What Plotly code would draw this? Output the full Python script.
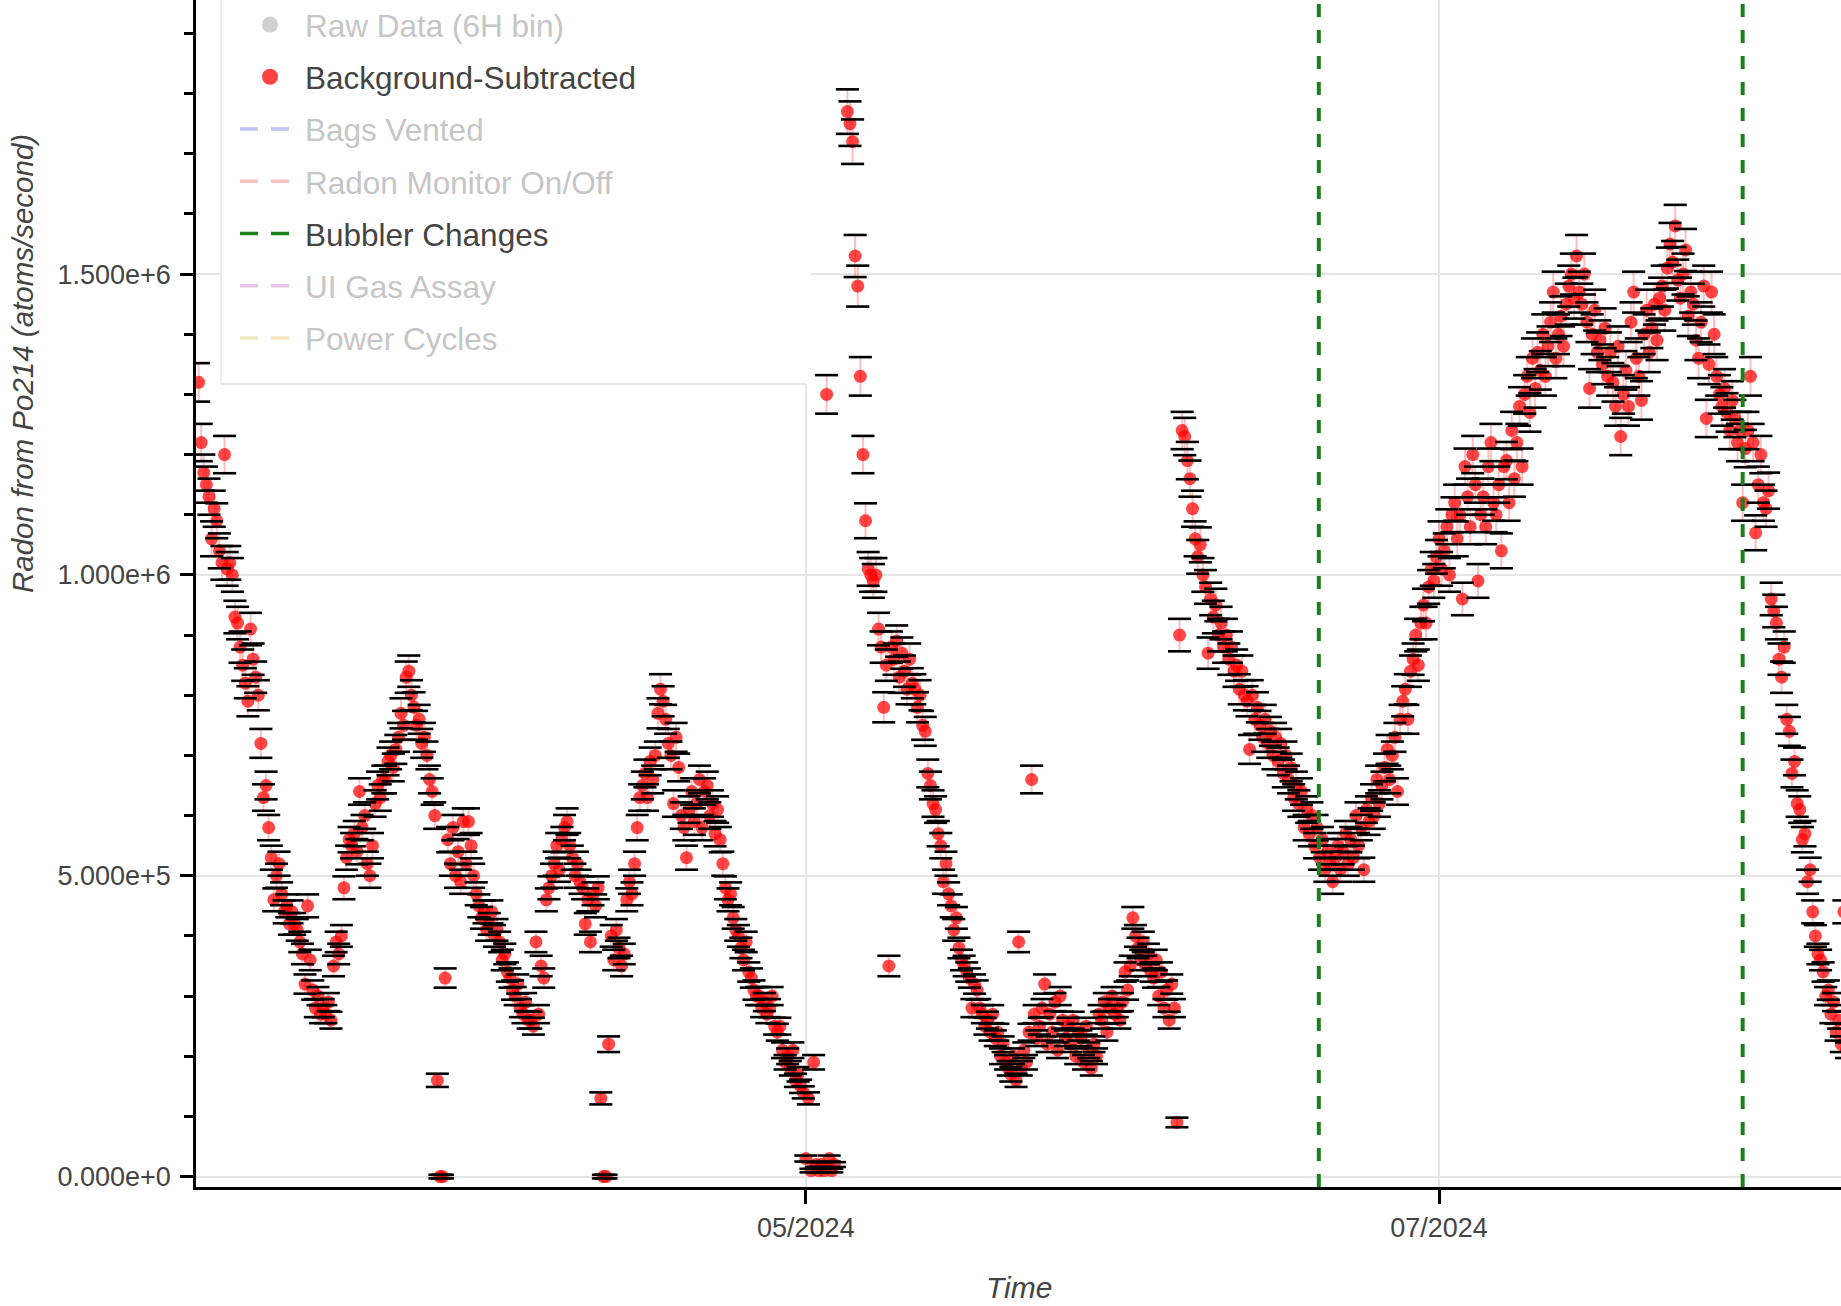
import pandas as pd
import plotly.graph_objects as go

# ---------------- data ----------------
SCALE = 1e4                       # values below are in units of 1e4 atoms/second
BIN_START = "2024-03-03 12:00"    # first 6H bin
BIN_FREQ = "6h"

# background-subtracted radon rate, 6H bins, four bins per group
bkgsub_p1 = [
    132, 122, 117, 115,  113, 106, 111, 109,  104, 102, 120, 101,  102, 100, 93, 92,
    88, 85, 82, 79,  91, 86, 83, 80,  72, 63, 65, 58,  53, 46, 50, 52,
    47, 44, 45, 42,  44, 42, 41, 39,  37, 32, 45, 36,  31, 28, 30, 27,
    28, 27, 29, 26,  35, 39, 37, 40,  48, 53, 56, 55,  57, 54, 64, 58,
    60, 52, 50, 55,  62, 65, 63, 66,  66, 69, 70, 68,  71, 73, 77, 75,
    83, 84, 80, 78,  75, 76, 72, 73,  70, 66, 64, 60,  16, 0, 0, 33,
    56, 52, 58, 50,  54, 49, 59, 52,  59, 55, 50, 47,  45, 43, 44, 41,
    42, 44, 40, 41,
]
bkgsub_p2 = [
    39, 36, 37, 34,  33, 31, 30, 32,  28, 27, 29, 26,  26, 25, 39, 27,
    35, 33, 46, 48,  50, 52, 55, 51,  56, 58, 59, 55,  53, 50, 52, 49,
    48, 42, 46, 39,  47, 45, 48, 13,  0, 0, 22, 40,  36, 41, 38, 35,
    37, 46, 49, 47,  52, 58, 63, 65,  67, 63, 69, 66,  70, 77, 81, 79,
    76, 72, 70, 62,  73, 68, 60, 58,  53, 61, 64, 59,  62, 66, 58, 64,
    65, 60, 62, 57,  61, 56, 52, 48,  46, 47, 43, 41,  40, 38, 36, 39,
    34, 33, 31, 30,  30, 28, 29, 27,  28, 30, 25, 24,  25, 21, 19, 20,
    18, 21, 16, 17,  15, 14, 3, 13,
]
bkgsub_p3 = [
    1, 19, 2, 1,  2, 1, 130, 3,  1, 2, None, None,  None, None, 177, 175,
    172, 153, 148, 133,  120, 109, 101, 100,  99, 100, 91, 88,  78, 85, 35, 88,
    86, 89, 83, 87,  84, 81, 86, 82,  81, 78, 80, 75,  74, 67, 65, 62,
    61, 57, 55, 49,  52, 47, 45, 41,  43, 38, 36, 35,  34, 33, 28, 32,
    31, 28, 27, 25,  26, 24, 27, 23,  24, 20, 22, 19,  18, 17, 20, 16,
    39, 18, 21, 19,  24, 66, 27, 23,  25, 28, 32, 22,  27, 24, 29, 21,
    30, 26, 23, 25,  22, 26, 20, 24,  23, 19, 25, 21,  18, 22, 20, 27,
    26, 29, 24, 28,  30, 27, 28, 26,  29, 34, 31, 35,
]
bkgsub_p4 = [
    43, 40, 38, 36,  39, 35, 37, 34,  33, 36, 30, 34,  28, 31, 26, 32,
    28, 9, 90, 124,  123, 119, 116, 111,  106, 103, 105, 100,  98, 87, 96, 93,
    95, 90, 92, 88,  90, 86, 88, 84,  85, 81, 84, 80,  79, 71, 80, 76,
    78, 75, 73, 76,  72, 74, 70, 73,  69, 72, 67, 70,  66, 68, 63, 65,
    62, 64, 58, 61,  57, 60, 55, 58,  53, 56, 51, 54,  52, 49, 53, 55,
    51, 54, 57, 52,  56, 53, 60, 55,  58, 51, 61, 59,  63, 60, 66, 62,
    65, 68, 71, 66,  70, 73, 64, 76,  79, 81, 76, 84,  86, 90, 85, 92,
    95, 92, 98, 101,  99, 103, 106, 101,
]
bkgsub_p5 = [
    104, 108, 100, 110,  112, 106, 110, 96,  118, 113, 108, 120,  115, 99, 110, 113,
    108, 118, 122, 112,  110, 115, 104, 118,  119, 112, 124, 116,  122, 128, 118, 130,
    133, 127, 136, 131,  137, 134, 140, 133,  138, 142, 147, 136,  140, 143, 138, 145,
    148, 150, 146, 153,  147, 145, 150, 142,  131, 140, 144, 137,  139, 135, 141, 133,
    137, 132, 128, 138,  123, 130, 134, 128,  142, 147, 136, 133,  129, 140, 144, 137,
    141, 145, 139, 146,  148, 144, 151, 155,  152, 158, 149, 146,  150, 154, 143, 147,
    145, 139, 136, 142,  148, 126, 135, 147,  140, 133, 130, 128,  131, 127, 124, 129,
    126, 122, 124, 112,  121, 124, 133, 122,  107, 115, 120, 112,
]
bkgsub_p6 = [
    111, 114, 96, 94,  92, 86, 83, 88,  76, 74, 67, 69,  62, 61, 56, 57,
    49, 51, 44, 40,  37, 36, 34, 30,  31, 27, 29, 24,  26, 22, 44, 21,
]

# half-height of the error bars (same units), read from the whisker caps
err_p1 = [
    3.2, 3.1, 3.0, 3.0,  3.0, 2.9, 3.0, 2.9,  2.9, 2.8, 3.1, 2.8,  2.8, 2.8, 2.7, 2.7,
    2.6, 2.6, 2.5, 2.5,  2.7, 2.6, 2.6, 2.5,  2.4, 2.2, 2.3, 2.1,  2.0, 1.9, 2.0, 2.0,
    1.9, 1.9, 1.9, 1.8,  1.9, 1.8, 1.8, 1.7,  1.7, 1.6, 1.9, 1.7,  1.6, 1.5, 1.5, 1.5,
    1.5, 1.5, 1.5, 1.4,  1.7, 1.7, 1.7, 1.8,  1.9, 2.0, 2.1, 2.1,  2.1, 2.1, 2.2, 2.1,
    2.2, 2.0, 2.0, 2.1,  2.2, 2.3, 2.2, 2.3,  2.3, 2.3, 2.3, 2.3,  2.4, 2.4, 2.5, 2.4,
    2.6, 2.6, 2.5, 2.5,  2.4, 2.4, 2.4, 2.4,  2.3, 2.3, 2.2, 2.2,  1.1, 0.3, 0.3, 1.6,
    2.1, 2.0, 2.1, 2.0,  2.1, 2.0, 2.2, 2.0,  2.2, 2.1, 2.0, 1.9,  1.9, 1.8, 1.9, 1.8,
    1.8, 1.9, 1.8, 1.8,
]
err_p2 = [
    1.7, 1.7, 1.7, 1.6,  1.6, 1.6, 1.5, 1.6,  1.5, 1.5, 1.5, 1.4,  1.4, 1.4, 1.7, 1.5,
    1.7, 1.6, 1.9, 1.9,  2.0, 2.0, 2.1, 2.0,  2.1, 2.1, 2.2, 2.1,  2.0, 2.0, 2.0, 2.0,
    1.9, 1.8, 1.9, 1.7,  1.9, 1.9, 1.9, 1.0,  0.3, 0.3, 1.3, 1.8,  1.7, 1.8, 1.7, 1.7,
    1.7, 1.9, 2.0, 1.9,  2.0, 2.1, 2.2, 2.3,  2.3, 2.2, 2.3, 2.3,  2.3, 2.5, 2.5, 2.5,
    2.4, 2.4, 2.3, 2.2,  2.4, 2.3, 2.2, 2.1,  2.0, 2.2, 2.2, 2.2,  2.2, 2.3, 2.1, 2.2,
    2.3, 2.2, 2.2, 2.1,  2.2, 2.1, 2.0, 1.9,  1.9, 1.9, 1.8, 1.8,  1.8, 1.7, 1.7, 1.7,
    1.6, 1.6, 1.6, 1.5,  1.5, 1.5, 1.5, 1.5,  1.5, 1.5, 1.4, 1.4,  1.4, 1.3, 1.2, 1.3,
    1.2, 1.3, 1.1, 1.2,  1.1, 1.0, 0.5, 1.0,
]
err_p3 = [
    0.3, 1.2, 0.4, 0.3,  0.4, 0.3, 3.2, 0.5,  0.3, 0.4, 0, 0,  0, 0, 3.7, 3.7,
    3.7, 3.5, 3.4, 3.2,  3.1, 2.9, 2.8, 2.8,  2.8, 2.8, 2.7, 2.6,  2.5, 2.6, 1.7, 2.6,
    2.6, 2.6, 2.6, 2.6,  2.6, 2.5, 2.6, 2.5,  2.5, 2.5, 2.5, 2.4,  2.4, 2.3, 2.3, 2.2,
    2.2, 2.1, 2.1, 2.0,  2.0, 1.9, 1.9, 1.8,  1.8, 1.7, 1.7, 1.7,  1.6, 1.6, 1.5, 1.6,
    1.6, 1.5, 1.5, 1.4,  1.4, 1.4, 1.5, 1.3,  1.4, 1.3, 1.3, 1.2,  1.2, 1.2, 1.3, 1.1,
    1.7, 1.2, 1.3, 1.2,  1.4, 2.3, 1.5, 1.3,  1.4, 1.5, 1.6, 1.3,  1.5, 1.4, 1.5, 1.3,
    1.5, 1.4, 1.3, 1.4,  1.3, 1.4, 1.3, 1.4,  1.3, 1.2, 1.4, 1.3,  1.2, 1.3, 1.3, 1.5,
    1.4, 1.5, 1.4, 1.5,  1.5, 1.5, 1.5, 1.4,  1.5, 1.6, 1.6, 1.7,
]
err_p4 = [
    1.8, 1.8, 1.7, 1.7,  1.7, 1.7, 1.7, 1.6,  1.6, 1.7, 1.5, 1.6,  1.5, 1.6, 1.4, 1.6,
    1.5, 0.8, 2.7, 3.1,  3.1, 3.1, 3.0, 3.0,  2.9, 2.8, 2.9, 2.8,  2.8, 2.6, 2.7, 2.7,
    2.7, 2.7, 2.7, 2.6,  2.7, 2.6, 2.6, 2.6,  2.6, 2.5, 2.6, 2.5,  2.5, 2.4, 2.5, 2.4,
    2.5, 2.4, 2.4, 2.4,  2.4, 2.4, 2.3, 2.4,  2.3, 2.4, 2.3, 2.3,  2.3, 2.3, 2.2, 2.3,
    2.2, 2.2, 2.1, 2.2,  2.1, 2.2, 2.1, 2.1,  2.0, 2.1, 2.0, 2.1,  2.0, 2.0, 2.0, 2.1,
    2.0, 2.1, 2.1, 2.0,  2.1, 2.0, 2.2, 2.1,  2.1, 2.0, 2.2, 2.2,  2.2, 2.2, 2.3, 2.2,
    2.3, 2.3, 2.4, 2.3,  2.3, 2.4, 2.2, 2.4,  2.5, 2.5, 2.4, 2.6,  2.6, 2.7, 2.6, 2.7,
    2.7, 2.7, 2.8, 2.8,  2.8, 2.8, 2.9, 2.8,
]
err_p5 = [
    2.9, 2.9, 2.8, 2.9,  3.0, 2.9, 2.9, 2.7,  3.0, 3.0, 2.9, 3.1,  3.0, 2.8, 2.9, 3.0,
    2.9, 3.0, 3.1, 3.0,  2.9, 3.0, 2.9, 3.0,  3.1, 3.0, 3.1, 3.0,  3.1, 3.2, 3.0, 3.2,
    3.2, 3.2, 3.3, 3.2,  3.3, 3.2, 3.3, 3.2,  3.3, 3.3, 3.4, 3.3,  3.3, 3.3, 3.3, 3.4,
    3.4, 3.4, 3.4, 3.5,  3.4, 3.4, 3.4, 3.3,  3.2, 3.3, 3.4, 3.3,  3.3, 3.3, 3.3, 3.2,
    3.3, 3.2, 3.2, 3.3,  3.1, 3.2, 3.2, 3.2,  3.3, 3.4, 3.3, 3.2,  3.2, 3.3, 3.4, 3.3,
    3.3, 3.4, 3.3, 3.4,  3.4, 3.4, 3.4, 3.5,  3.5, 3.5, 3.4, 3.4,  3.4, 3.5, 3.3, 3.4,
    3.4, 3.3, 3.3, 3.3,  3.4, 3.1, 3.3, 3.4,  3.3, 3.2, 3.2, 3.2,  3.2, 3.2, 3.1, 3.2,
    3.1, 3.1, 3.1, 3.0,  3.1, 3.1, 3.2, 3.1,  2.9, 3.0, 3.1, 3.0,
]
err_p6 = [
    3.0, 3.0, 2.7, 2.7,  2.7, 2.6, 2.6, 2.6,  2.4, 2.4, 2.3, 2.3,  2.2, 2.2, 2.1, 2.1,
    2.0, 2.0, 1.9, 1.8,  1.7, 1.7, 1.6, 1.5,  1.6, 1.5, 1.5, 1.4,  1.4, 1.3, 1.9, 1.3,
]

bubbler_changes = ["2024-06-19 10:00", "2024-07-30 06:00"]

x_range = ["2024-03-03 06:00", "2024-08-08 17:20"]
y_range = [-1.73e4, 1.9555e6]

legend_items = ["Raw Data (6H bin)", "Background-Subtracted", "Bags Vented",
                "Radon Monitor On/Off", "Bubbler Changes", "UI Gas Assay", "Power Cycles"]

# ---------------- assemble ----------------
vals = bkgsub_p1 + bkgsub_p2 + bkgsub_p3 + bkgsub_p4 + bkgsub_p5 + bkgsub_p6
errs = err_p1 + err_p2 + err_p3 + err_p4 + err_p5 + err_p6
assert len(vals) == len(errs)
times = pd.date_range(BIN_START, periods=len(vals), freq=BIN_FREQ)

y = [None if v is None else v * SCALE for v in vals]
ey = [0.0 if v is None else e * SCALE for v, e in zip(vals, errs)]
y_hi = [None if v is None else v + e for v, e in zip(y, ey)]
y_lo = [None if v is None else v - e for v, e in zip(y, ey)]

FONT = "Liberation Sans, Arial, Helvetica, sans-serif"
TXT = "#444444"
MUTED = "#c6c6c6"

# plot-area geometry in page pixels
W, H = 1841, 1306
PL, PB = 196, 119
PW, PH = W - PL, H - PB


def px_x(px):
    return (px - PL) / PW


def px_y(py):
    return (H - PB - py) / PH


def muted(t):
    return f'<span style="color:{MUTED}">{t}</span>'


fig = go.Figure()

# legend-only entries
fig.add_trace(go.Scatter(x=[None], y=[None], mode="markers", name=muted(legend_items[0]),
                         legendgroup="g0", marker=dict(size=16, color="rgba(150,150,150,0.45)")))
fig.add_trace(go.Scatter(x=[None], y=[None], mode="markers", name=legend_items[1],
                         legendgroup="g1", marker=dict(size=16, color="rgba(255,20,20,0.8)")))

# data: red points + faint red stems
fig.add_trace(go.Scatter(
    x=times, y=y, mode="markers", showlegend=False, legendgroup="g1",
    marker=dict(size=13, color="rgba(255,0,0,0.72)", line=dict(width=0)),
    error_y=dict(type="data", array=ey, visible=True, color="rgba(255,70,70,0.35)",
                 thickness=2, width=0),
))
# black whisker caps
fig.add_trace(go.Scatter(
    x=list(times) + list(times), y=y_hi + y_lo, mode="markers", showlegend=False,
    legendgroup="g1", hoverinfo="skip",
    marker=dict(symbol="line-ew", size=16.5, color="black", line=dict(color="black", width=2.6)),
))

line_legend = [
    (legend_items[2], "rgba(120,120,235,0.45)", True),
    (legend_items[3], "rgba(240,120,120,0.45)", True),
    (legend_items[4], "#1b7f1b", False),
    (legend_items[5], "rgba(200,120,210,0.45)", True),
    (legend_items[6], "rgba(225,200,110,0.45)", True),
]
for i, (nm, col, is_muted) in enumerate(line_legend):
    fig.add_trace(go.Scatter(x=[None], y=[None], mode="lines",
                             name=muted(nm) if is_muted else nm, legendgroup=f"g{i + 2}",
                             line=dict(color=col, width=3.5, dash="18px,13px")))

shapes = []
for t in bubbler_changes:
    shapes.append(dict(type="line", xref="x", yref="paper", x0=t, x1=t, y0=0, y1=1,
                       line=dict(color="#1b7f1b", width=4, dash="13px,13px"), layer="above"))
# legend box (white panel, faint left and bottom border)
shapes.append(dict(type="rect", xref="paper", yref="paper",
                   x0=px_x(221), x1=px_x(811), y0=px_y(384), y1=px_y(-40),
                   fillcolor="white", line=dict(width=0), layer="above"))
shapes.append(dict(type="line", xref="paper", yref="paper",
                   x0=px_x(221), x1=px_x(806), y0=px_y(384), y1=px_y(384),
                   line=dict(color="#e8e8e8", width=2), layer="above"))
shapes.append(dict(type="line", xref="paper", yref="paper",
                   x0=px_x(221), x1=px_x(221), y0=px_y(384), y1=px_y(-40),
                   line=dict(color="#ececec", width=2), layer="above"))

annotations = [
    dict(text="Radon from Po214 (atoms/second)", xref="paper", yref="paper",
         x=px_x(22), y=px_y(364), textangle=-90, showarrow=False,
         xanchor="center", yanchor="middle",
         font=dict(family=FONT, size=29.5, color=TXT, style="italic")),
    dict(text="Time", xref="paper", yref="paper", x=px_x(1019), y=px_y(1287),
         showarrow=False, xanchor="center", yanchor="middle",
         font=dict(family=FONT, size=30, color=TXT, style="italic")),
]

ITEM_W = 60
fig.update_layout(
    width=W, height=H,
    margin=dict(l=PL, r=0, t=0, b=PB, autoexpand=False),
    paper_bgcolor="white", plot_bgcolor="white",
    font=dict(family=FONT, color=TXT),
    showlegend=True,
    legend=dict(x=px_x(305 - ITEM_W - 10), y=px_y(-2.5), xanchor="left", yanchor="top",
                bgcolor="rgba(0,0,0,0)", borderwidth=0, traceorder="grouped",
                tracegroupgap=8.3, itemwidth=ITEM_W, itemclick=False, itemdoubleclick=False,
                font=dict(family=FONT, size=31.5, color=TXT)),
    shapes=shapes,
    annotations=annotations,
    xaxis=dict(type="date", range=x_range, dtick="M2", tick0="2024-01-01",
               tickformat="%m/%Y", ticks="outside", ticklen=14, tickwidth=2.5,
               tickcolor="black", showline=True, linecolor="black", linewidth=2.5,
               showgrid=True, gridcolor="#e5e5e5", gridwidth=2, zeroline=False,
               ticklabelstandoff=1,
               tickfont=dict(family=FONT, size=27, color=TXT)),
    yaxis=dict(range=y_range, tick0=0, dtick=5e5, tickformat=".3e",
               ticks="outside", ticklen=13, tickwidth=2.5, tickcolor="black",
               minor=dict(dtick=1e5, tick0=0, ticks="outside", ticklen=9, tickwidth=2.5,
                          tickcolor="black", showgrid=False),
               showline=True, linecolor="black", linewidth=2.5,
               showgrid=True, gridcolor="#e5e5e5", gridwidth=2, zeroline=False,
               ticklabelstandoff=4,
               tickfont=dict(family=FONT, size=27, color=TXT)),
)

fig.write_html("out.html")
